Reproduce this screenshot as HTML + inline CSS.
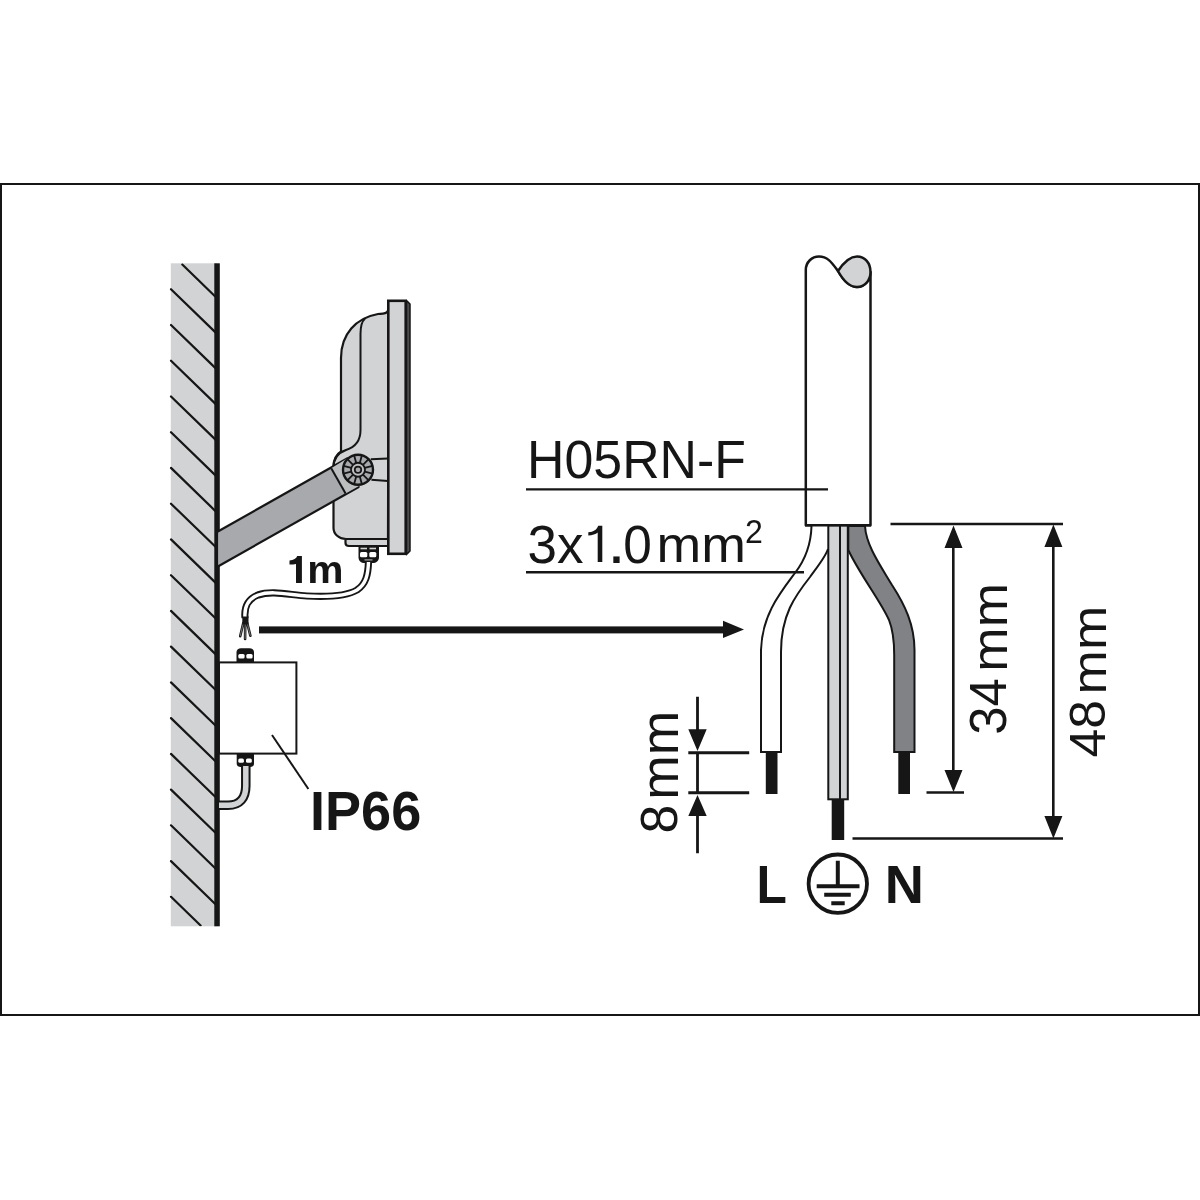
<!DOCTYPE html>
<html><head><meta charset="utf-8">
<style>
html,body{margin:0;padding:0;background:#fff;width:1200px;height:1200px;overflow:hidden}
svg{display:block}
text{font-family:"Liberation Sans",sans-serif;fill:#161616}
</style></head><body>
<svg width="1200" height="1200" viewBox="0 0 1200 1200">
<defs>
<clipPath id="wallclip"><rect x="160" y="263.3" width="58" height="663"/></clipPath>
</defs>
<rect x="0" y="0" width="1200" height="1200" fill="#fff"/>
<!-- frame border -->
<rect x="1" y="184" width="1198" height="831" fill="none" stroke="#161616" stroke-width="2"/>

<!-- WALL -->
<rect x="170.8" y="263.3" width="46" height="663" fill="#d1d3d4"/>
<g clip-path="url(#wallclip)"><path d="M182.3 264.5L216.0 297.2M171.0 289.2L216.0 332.9M171.0 325.0L216.0 368.6M171.0 360.7L216.0 404.4M171.0 396.5L216.0 440.1M171.0 432.2L216.0 475.9M171.0 467.9L216.0 511.6M171.0 503.7L216.0 547.3M171.0 539.4L216.0 583.1M171.0 575.2L216.0 618.8M171.0 610.9L216.0 654.6M171.0 646.6L216.0 690.3M171.0 682.4L216.0 726.0M171.0 718.1L216.0 761.8M171.0 753.9L216.0 797.5M171.0 789.6L216.0 833.3M171.0 825.3L216.0 869.0M171.0 861.1L216.0 904.7M171.0 896.8L200.6 925.5" stroke="#161616" stroke-width="2.2" fill="none" stroke-linecap="round"/></g>
<rect x="214.3" y="263.3" width="5.5" height="663" fill="#161616"/>

<!-- FLOODLIGHT housing -->
<!-- flange -->
<path d="M345.5 538 L345.5 543 C345.5 545 347 546 349 546 L389 546 L389 538 Z" fill="#d1d3d4"/>
<path d="M345.5 539.5 L345.5 543 C345.5 545 347 546 349 546 L389 546" fill="none" stroke="#161616" stroke-width="2.2"/>
<path id="housing" d="M388.5 309 C388 312 386.5 313.4 383 313.6 C381 313.7 379.5 313.8 378 314 C356 318 341 334 341 358 L341 451.5 C337 454 333.5 459 333.5 467 L333.5 528 C333.5 534 339 539 346 539 L388 539 Z" fill="#d1d3d4" stroke="#161616" stroke-width="2.2" stroke-linejoin="round"/>
<path d="M365 318.5 C361 322 360.5 327 360.5 334 L360.5 430 C360.5 442 354 447.5 346 450 C338 453 333.5 458 333.5 467" fill="none" stroke="#161616" stroke-width="2"/>
<!-- front frame -->
<path d="M406.5 300.5 L410 304 L410 551 L406.5 554.6 Z" fill="#4d4d4f" stroke="#161616" stroke-width="1.5" stroke-linejoin="round"/>
<rect x="388.3" y="300.8" width="17.4" height="253" fill="#d1d3d4" stroke="#161616" stroke-width="2.6"/>
<!-- lines knob to frame -->
<path d="M370.8 459.3 L388 458.4 M371.4 479.7 L388 481.1" stroke="#161616" stroke-width="2" fill="none"/>

<!-- ARM -->
<path d="M217 532 L347.5 458.3 L358.6 487 L217 567 Z" fill="#a7a9ac" stroke="#161616" stroke-width="2.2" stroke-linejoin="round"/>
<path d="M331.2 468.3 L345.6 493.5 L358.6 486.2 L358 469.75 L347.5 458.3 Z" fill="#bcbec0" stroke="none"/>
<path d="M331.2 468.3 L345.6 493.5" stroke="#161616" stroke-width="2"/>
<!-- knob -->
<g transform="translate(358 469.75)">
<circle r="15" fill="#a7a9ac" stroke="#161616" stroke-width="2.4"/>
<g stroke="#161616" stroke-width="1.8">
<path d="M0 -15V-7M0 15V7" transform="rotate(15)"/>
<path d="M0 -15V-7M0 15V7" transform="rotate(45)"/>
<path d="M0 -15V-7M0 15V7" transform="rotate(75)"/>
<path d="M0 -15V-7M0 15V7" transform="rotate(105)"/>
<path d="M0 -15V-7M0 15V7" transform="rotate(135)"/>
<path d="M0 -15V-7M0 15V7" transform="rotate(165)"/>
</g>
<circle r="7" fill="#bcbec0" stroke="#161616" stroke-width="1.8"/>
<circle r="3.2" fill="#a7a9ac" stroke="#161616" stroke-width="1.8"/>
</g>

<!-- gland at floodlight -->
<path d="M358.5 546.5 L379 546.5 L379 557 C379 561 376 563 372.7 563 L364.7 563 C361 563 358.5 561 358.5 557 Z" fill="#161616"/>
<rect x="360" y="552" width="7.3" height="5.3" rx="1.5" fill="#fff"/>
<rect x="369.3" y="552" width="7" height="5.3" rx="1.5" fill="#fff"/>
<rect x="360.5" y="547.7" width="6.5" height="1.6" fill="#d1d3d4"/>
<rect x="369.5" y="547.7" width="6.5" height="1.6" fill="#d1d3d4"/>
<rect x="364.5" y="559.3" width="8" height="1.2" fill="#a7a9ac"/>

<!-- 1m cable -->
<path id="cab1" d="M368.5 562 C368 575 366 584 357 590 C345 597 325 597 307 596 C290 595 272 590 258 595 C248 599 244 606 245 618" fill="none" stroke="#161616" stroke-width="7.2"/>
<path d="M368.5 562 C368 575 366 584 357 590 C345 597 325 597 307 596 C290 595 272 590 258 595 C248 599 244 606 245 618" fill="none" stroke="#fff" stroke-width="3.4"/>
<path d="M243.3 623 L240.2 636.2 M245.2 623 L245.1 639 M247.2 623 L250.4 635.8" stroke="#161616" stroke-width="2.6" fill="none" stroke-linecap="round"/>
<path d="M243.3 623 L240.2 636.2 M245.2 623 L245.1 639 M247.2 623 L250.4 635.8" stroke="#9a9a9a" stroke-width="0.7" fill="none"/>
<rect x="242.3" y="616.5" width="6.2" height="8" fill="#161616"/>


<!-- ARROW -->
<rect x="259" y="626.4" width="466" height="7" fill="#161616"/>
<path d="M723 620.7 L744 629.4 L723 638 Z" fill="#161616"/>

<!-- JUNCTION BOX -->
<rect x="219" y="662.4" width="77.4" height="91.2" fill="#fff" stroke="#161616" stroke-width="2"/>
<path d="M236.5 662 L236.5 652 C236.5 649.5 238.5 648.2 241 648.2 L249.5 648.2 C252 648.2 254 649.5 254 652 L254 662 Z" fill="#161616"/>
<rect x="238.3" y="654" width="6.3" height="4.6" rx="1.5" fill="#fff"/>
<rect x="246.3" y="654" width="6.3" height="4.6" rx="1.5" fill="#fff"/>
<path d="M236.7 754 L254 754 L254 764 C254 766 252 767 250 767 L240.7 767 C238.7 767 236.7 766 236.7 764 Z" fill="#161616"/>
<rect x="238.3" y="758.5" width="5.6" height="4.3" rx="1.5" fill="#fff"/>
<rect x="246" y="758.5" width="5.8" height="4.3" rx="1.5" fill="#fff"/>
<path d="M245.8 766 L245.8 786 C245.8 798 240 805.3 228 805.3 L219 805.3" fill="none" stroke="#161616" stroke-width="9.5"/>
<path d="M245.8 766 L245.8 786 C245.8 798 240 805.3 228 805.3 L219 805.3" fill="none" stroke="#d1d3d4" stroke-width="5.5"/>
<path d="M272 735 L308.4 789" stroke="#161616" stroke-width="2"/>

<!-- CABLE (right) -->
<path d="M805.8 525.3 L805.8 270 C805.8 262 812 256.5 819 256.5 C828 256.5 832 263 838 271 C843 280 850 287 857 287 C865 287 870.5 280 870.5 272 L870.5 525.3 Z" fill="#fff" stroke="#161616" stroke-width="2.5" stroke-linejoin="round"/>
<path d="M838 271 C844 262 850 256.5 857 256.5 C865 256.5 870.5 263 870.5 272 C870.5 280 865 287 857 287 C850 287 843 280 838 271 Z" fill="#d1d3d4" stroke="#161616" stroke-width="2.5"/>

<!-- leaders -->


<!-- wires -->
<!-- L wire -->
<path d="M811.5 526 C811 545 805 560 795 573 C780 593 762 615 761 650 L761 752 L781 752 L781 652 C781 615 795 596 810 577 C818 566 826 556 828 549 L828 526 Z" fill="#fff"/>
<path d="M811.5 526 C811 545 805 560 795 573 C780 593 762 615 761 650 L761 752 L781 752 L781 652 C781 615 795 596 810 577 C818 566 826 556 828 549" fill="none" stroke="#161616" stroke-width="2"/>
<rect x="765.8" y="752" width="11.7" height="42" fill="#161616"/>
<!-- N wire -->
<path d="M848.3 526 L848.3 550 C860 575 880 600 889 620 C893 630 894.2 640 894.2 655 L894.2 752 L914.5 752 L914.5 650 C914.5 625 905 605 892 585 C880 565 866 545 865 526 Z" fill="#808285" stroke="#161616" stroke-width="2"/>
<rect x="898.3" y="752" width="11.7" height="42" fill="#161616"/>
<!-- earth wire -->
<rect x="828.3" y="525.3" width="19.5" height="274" fill="#d1d3d4" stroke="#161616" stroke-width="2"/>
<path d="M840 525.3 V799" stroke="#161616" stroke-width="2"/>
<rect x="831.7" y="799" width="12.5" height="41" fill="#161616"/>
<!-- cable bottom line -->
<path d="M805 525.3 L871 525.3" stroke="#161616" stroke-width="2.5"/>

<path d="M526 489.4 L828 489.4 M526 572.3 L804 572.3" stroke="#161616" stroke-width="2.4" fill="none"/>
<!-- dims right -->
<path d="M890.5 524 L1063 524 M926.5 792.5 L964 792.5 M852.5 838.5 L1063 838.5" stroke="#161616" stroke-width="2.5" fill="none"/>
<path d="M953.3 540 V777 M1053.3 540 V823" stroke="#161616" stroke-width="2.6" fill="none"/>
<path d="M953.5 525.5 L962.5 548 L944.5 548 Z M953.5 792 L962.5 770 L944.5 770 Z" fill="#161616"/>
<path d="M1053.4 524.5 L1062.4 547 L1044.4 547 Z M1053.4 838.5 L1062.4 816 L1044.4 816 Z" fill="#161616"/>

<!-- dims left 8mm -->
<path d="M688.3 752.75 L749.2 752.75 M688.3 792.75 L749.2 792.75" stroke="#161616" stroke-width="2.8" fill="none"/>
<path d="M697.5 696.7 V733 M697.5 752.5 V793 M697.5 812 V853.3" stroke="#161616" stroke-width="2.8" fill="none"/>
<path d="M697.5 751 L706.7 729.2 L688.3 729.2 Z M697.5 795 L706.7 816 L688.3 816 Z" fill="#161616"/>

<!-- L earth N -->
<g stroke="#161616" stroke-width="4" fill="none">
<circle cx="837.8" cy="883.7" r="29.2" stroke-width="3.8"/>
<path d="M837.8 860.8 V886 M816.7 886.3 H859.5 M824.2 894.7 H850.8 M831.3 903.3 H844.7"/>
</g>
<g id="texts" style="filter:grayscale(1)">
<text transform="matrix(0.5183 0 0 0.5310 527.10 478.17)" font-size="100">H05RN-F</text>
<text transform="matrix(0.5303 0 0 0.5352 527.58 562.76)" font-size="100">3x</text>
<path d="M602.3 525.7 L602.3 562 L597.7 562 L597.7 532.6 C595.8 534.2 592.3 535.5 588.3 535.6 L588.3 532.3 C593.6 531.9 597 529.5 598.2 525.7 Z" fill="#161616"/>
<text transform="matrix(0.6632 0 0 0.6190 607.23 563.00)" font-size="100">.</text>
<text transform="matrix(0.5137 0 0 0.5352 623.25 562.76)" font-size="100">0</text>
<text transform="matrix(0.5368 0 0 0.5019 656.51 562.10)" font-size="100">mm</text>
<text transform="matrix(0.3209 0 0 0.3300 745.10 543.00)" font-size="100">2</text>
<path d="M301.9 556.1 L301.9 582.9 L296 582.9 L296 564 C294.2 564.5 291.8 564.6 289.5 564.6 L289.5 560.6 C293.6 560.3 296.4 558.6 297.2 556.1 Z" fill="#161616"/>
<text transform="matrix(0.4079 0 0 0.3833 307.35 582.90)" font-size="100" font-weight="bold">m</text>
<text transform="matrix(0.5407 0 0 0.5493 309.99 829.85)" font-size="100" font-weight="bold">IP66</text>
<text transform="matrix(0.4971 0 0 0.5391 756.47 903.00)" font-size="100" font-weight="bold">L</text>
<text transform="matrix(0.5424 0 0 0.5391 884.77 903.00)" font-size="100" font-weight="bold">N</text>
<text transform="matrix(0 -0.5096 0.5176 0 1005.98 734.79)" font-size="100">34</text>
<text transform="matrix(0 -0.5326 0.5000 0 1006.50 671.71)" font-size="100">mm</text>
<text transform="matrix(0 -0.5167 0.5070 0 1105.24 757.54)" font-size="100">48</text>
<text transform="matrix(0 -0.5326 0.4861 0 1105.75 694.46)" font-size="100">mm</text>
<text transform="matrix(0 -0.5181 0.5197 0 676.98 833.58)" font-size="100">8</text>
<text transform="matrix(0 -0.5332 0.5093 0 677.50 799.72)" font-size="100">mm</text>
</g>
</svg>
</body></html>
